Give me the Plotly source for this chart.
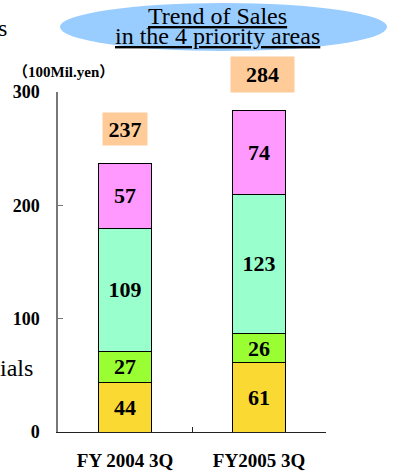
import plotly.graph_objects as go

# Sales by priority area (unit: 100 million yen)
periods = ["FY 2004 3Q", "FY2005 3Q"]
area_names = ["Electronic<br>materials", "Medicals", "Automotive<br>materials",
              "Functional<br>Bldg. materials"]
electronic = [44, 61]
medicals = [27, 26]
automotive = [109, 123]
functional = [57, 74]
totals = [237, 284]

series = [electronic, medicals, automotive, functional]
colors = ["#F9D932", "#99FF33", "#99FFCC", "#FF99FF"]

SERIF = "Liberation Serif, Times New Roman, serif"

# plot-area geometry in pixels (used to convert free-floating decorations)
W, H = 399, 472
L, R, T, B = 58, 326, 92, 432


def px_x(p):
    return (p - L) / (R - L)


def px_y(p):
    return (B - p) / (B - T)


fig = go.Figure()
for vals, col in zip(series, colors):
    fig.add_trace(go.Bar(
        x=periods, y=vals, marker=dict(color=col, line=dict(color="black", width=1)),
        width=0.4, texttemplate="%{y}", textposition="inside",
        insidetextanchor="middle", constraintext="none", textangle=0,
        textfont=dict(family=SERIF, size=22, color="black", weight="bold"),
        showlegend=False, hoverinfo="skip",
    ))

annotations = []

# totals in orange boxes above each column
box_sizes = [(44, 32, 0), (63, 35, 3)]
for i, (tot, (bw, bh, xs)) in enumerate(zip(totals, box_sizes)):
    annotations.append(dict(
        x=i, y=tot, xref="x", yref="y", text=f"<b>{tot}</b>", showarrow=False,
        yanchor="bottom", yshift=17, xshift=xs, width=bw, height=bh,
        bgcolor="#FFCC99", borderpad=0,
        font=dict(family=SERIF, size=22, color="black"),
    ))

# area names to the right of the second column
label_y = [21, 77, 146, 266]
for name, ly in zip(area_names, label_y):
    annotations.append(dict(
        x=1.64, y=ly, xref="x", yref="y", text=f"<b>{name}</b>", showarrow=False,
        align="center", xanchor="center", yanchor="middle",
        font=dict(family=SERIF, size=15, color="black"),
    ))

# unit caption
annotations.append(dict(
    x=px_x(11), y=px_y(72), xref="paper", yref="paper",
    text="<b>（100Mil.yen）</b>", showarrow=False, xanchor="left", yanchor="middle",
    font=dict(family=SERIF + ", Noto Sans CJK JP", size=15, color="black"),
))

# title inside the ellipse
for txt, cy in [("Trend of Sales", 16), ("in the 4 priority areas", 36)]:
    annotations.append(dict(
        x=px_x(217.5), y=px_y(cy), xref="paper", yref="paper",
        text=f"<u>{txt}</u>", showarrow=False, xanchor="center", yanchor="middle",
        font=dict(family=SERIF, size=24, color="black"),
    ))

# text running in from the neighbouring column
for txt, rx, cy in [("s", 9, 28), ("ials", 35, 368)]:
    annotations.append(dict(
        x=px_x(rx), y=px_y(cy), xref="paper", yref="paper",
        text=txt, showarrow=False, xanchor="right", yanchor="middle",
        font=dict(family=SERIF, size=24, color="black"),
    ))

shapes = [dict(
    type="circle", xref="paper", yref="paper", layer="below",
    x0=px_x(60), x1=px_x(387), y0=px_y(51), y1=px_y(3),
    fillcolor="#99CCFF", line=dict(width=0),
)]

fig.update_layout(
    barmode="stack",
    width=W, height=H,
    margin=dict(l=L, r=W - R, t=T, b=H - B, autoexpand=False),
    paper_bgcolor="white", plot_bgcolor="white",
    annotations=annotations, shapes=shapes,
    xaxis=dict(
        range=[-0.5, 1.5], showgrid=False, showline=True, linecolor="#222",
        linewidth=1, ticks="inside", ticklen=5, tickcolor="#222",
        tickson="boundaries", ticklabelstandoff=11, automargin=False,
        tickfont=dict(family=SERIF, size=19, color="black", weight="bold"),
    ),
    yaxis=dict(
        range=[0, 300], tickvals=[0, 100, 200, 300], showgrid=False, zeroline=False,
        showline=True, linecolor="#777", linewidth=1.5, ticks="inside", ticklen=5,
        tickcolor="#777", ticklabelstandoff=13, automargin=False,
        tickfont=dict(family=SERIF, size=18, color="black", weight="bold"),
    ),
)

fig.write_html("out.html")
